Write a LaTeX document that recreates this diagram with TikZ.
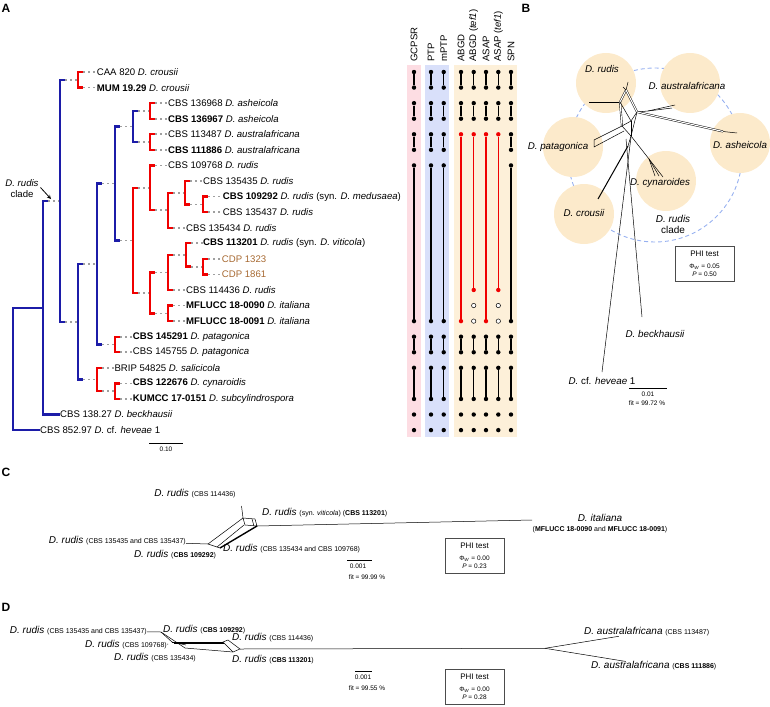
\documentclass[tikz,border=0pt]{standalone}
\usepackage{fontspec}
\setmainfont{Liberation Sans}
\usetikzlibrary{positioning, arrows, calc}
\definecolor{treeblue}{RGB}{28,28,168}
\definecolor{treered}{RGB}{240,0,0}
\definecolor{cdpbrown}{RGB}{166,104,48}
\definecolor{bandpink}{RGB}{253,221,227}
\definecolor{bandblue}{RGB}{217,224,250}
\definecolor{bandsand}{RGB}{253,240,217}
\definecolor{blobsand}{RGB}{252,234,203}
\definecolor{ringblue}{RGB}{150,176,240}
\newcommand{\Sp}[1]{\textit{#1}}
\newcommand{\Sm}[1]{{\fontsize{7}{8}\selectfont #1}}
\newcommand{\Rowy}[1]{72+15.57*#1}
\newcommand{\Link}[3]{%
  \draw[branch=#1] (#2) |- ($(#2 |- #3)+(5,0)$);
  \draw[twig] ($(#2 |- #3)+(5,0)$) -- (#3);
}
\tikzset{
  branch/.style={draw=#1, line width=2.3pt},
  twig/.style={draw=gray!75, line width=1.8pt, dash pattern=on 1.8pt off 3.2pt},
  leaf/.style={anchor=west, inner sep=0pt, font=\fontsize{9.6}{11}\selectfont},
  colhead/.style={anchor=west, rotate=90, inner sep=0pt, font=\fontsize{9.6}{11}\selectfont},
  dot/.style={circle, fill=#1, inner sep=0pt, minimum size=4.4pt},
  dot/.default=black,
  gap/.style={circle, draw=black, fill=white, line width=0.5pt, inner sep=0pt, minimum size=4.4pt},
  bar/.style={draw=#1, line width=1.3pt},
  bar/.default=black,
  panel/.style={font=\fontsize{12}{12}\selectfont\bfseries, inner sep=0pt},
  blob/.style={circle, fill=blobsand, minimum size=60pt, inner sep=0pt},
  ring/.style={circle, draw=ringblue, line width=0.9pt, dash pattern=on 4pt off 3pt, minimum size=174pt, inner sep=0pt},
  spname/.style={font=\fontsize{9.8}{11}\selectfont\itshape, inner sep=0pt},
  netlabel/.style={font=\fontsize{10}{11}\selectfont, inner sep=0pt},
  phibox/.style={draw=black!70, line width=0.6pt, minimum width=59pt, minimum height=35pt, align=center, font=\fontsize{8}{9}\selectfont, inner sep=1pt},
  note/.style={font=\fontsize{6.5}{7.5}\selectfont, inner sep=0pt},
  net/.style={line width=0.5pt},
  twin/.style={line width=0.45pt, double, double distance=1.1pt},
}
\begin{document}
\begin{tikzpicture}[x=1pt, y=-1pt]
  \useasboundingbox (0,0) rectangle (770,706);

  \node[panel] (lblA) at (6,8) {A};
  \node[panel] (lblB) at (526,8) {B};
  \node[panel] (lblC) at (6,472) {C};
  \node[panel] (lblD) at (6,607) {D};

  % tree tips
  \node[leaf] (t0) at (96.7,{\Rowy{0}}) {CAA 820 \Sp{D. crousii}};
  \node[leaf] (t1) at (96.7,{\Rowy{1}}) {\textbf{MUM 19.29} \Sp{D. crousii}};
  \node[leaf] (t2) at (168,{\Rowy{2}}) {CBS 136968 \Sp{D. asheicola}};
  \node[leaf] (t3) at (168,{\Rowy{3}}) {\textbf{CBS 136967} \Sp{D. asheicola}};
  \node[leaf] (t4) at (168,{\Rowy{4}}) {CBS 113487 \Sp{D. australafricana}};
  \node[leaf] (t5) at (168,{\Rowy{5}}) {\textbf{CBS 111886} \Sp{D. australafricana}};
  \node[leaf] (t6) at (168,{\Rowy{6}}) {CBS 109768 \Sp{D. rudis}};
  \node[leaf] (t7) at (203,{\Rowy{7}}) {CBS 135435 \Sp{D. rudis}};
  \node[leaf] (t8) at (222.7,{\Rowy{8}}) {\textbf{CBS 109292} \Sp{D. rudis} (syn. \Sp{D. medusaea})};
  \node[leaf] (t9) at (222.7,{\Rowy{9}}) {CBS 135437 \Sp{D. rudis}};
  \node[leaf] (t10) at (186,{\Rowy{10}}) {CBS 135434 \Sp{D. rudis}};
  \node[leaf] (t11) at (203,{\Rowy{11}}) {\textbf{CBS 113201} \Sp{D. rudis} (syn. \Sp{D. viticola})};
  \node[leaf, text=cdpbrown] (t12) at (221.7,{\Rowy{12}}) {CDP 1323};
  \node[leaf, text=cdpbrown] (t13) at (221.7,{\Rowy{13}}) {CDP 1861};
  \node[leaf] (t14) at (186,{\Rowy{14}}) {CBS 114436 \Sp{D. rudis}};
  \node[leaf] (t15) at (186,{\Rowy{15}}) {\textbf{MFLUCC 18-0090} \Sp{D. italiana}};
  \node[leaf] (t16) at (186,{\Rowy{16}}) {\textbf{MFLUCC 18-0091} \Sp{D. italiana}};
  \node[leaf] (t17) at (132.7,{\Rowy{17}}) {\textbf{CBS 145291} \Sp{D. patagonica}};
  \node[leaf] (t18) at (132.7,{\Rowy{18}}) {CBS 145755 \Sp{D. patagonica}};
  \node[leaf] (t19) at (114.3,{\Rowy{19}}) {BRIP 54825 \Sp{D. salicicola}};
  \node[leaf] (t20) at (132.7,{\Rowy{20}}) {\textbf{CBS 122676} \Sp{D. cynaroidis}};
  \node[leaf] (t21) at (132.7,{\Rowy{21}}) {\textbf{KUMCC 17-0151} \Sp{D. subcylindrospora}};
  \node[leaf] (t22) at (60,{\Rowy{22}}) {CBS 138.27 \Sp{D. beckhausii}};
  \node[leaf] (t23) at (40,{\Rowy{23}}) {CBS 852.97 \Sp{D.} cf. \Sp{heveae} 1};

  % tree nodes
  \coordinate (ncro) at (78,79.8);
  \coordinate (nash) at (150,110.9);
  \coordinate (naus) at (150,142.1);
  \coordinate (naa) at (133,126.5);
  \coordinate (nre) at (203,204.4);
  \coordinate (nrd) at (185,192.7);
  \coordinate (nrc) at (168,210.2);
  \coordinate (nra) at (150,187.8);
  \coordinate (ncdp) at (203,266.6);
  \coordinate (nrg) at (186,255);
  \coordinate (nrf) at (168,272.5);
  \coordinate (nita) at (168,313.4);
  \coordinate (nrb) at (150,293);
  \coordinate (nrud) at (133,240.4);
  \coordinate (n115) at (115,183.5);
  \coordinate (npat) at (115,344.5);
  \coordinate (n97) at (97,264);
  \coordinate (ncs) at (115,391.2);
  \coordinate (nsal) at (97,379.5);
  \coordinate (n78) at (78,321.8);
  \coordinate (n60) at (60,200.8);
  \coordinate (n43) at (43,307.7);
  \coordinate (root) at (13,368.9);

  \draw[branch=treeblue] (root) |- (n43);
  \draw[branch=treeblue] (root) |- (t23);
  \draw[branch=treeblue] (n43) |- (t22);
  \Link{treeblue}{n43}{n60}
  \Link{treeblue}{n60}{ncro}
  \Link{treeblue}{n60}{n78}
  \Link{treered}{ncro}{t0}
  \Link{treered}{ncro}{t1}
  \Link{treeblue}{n78}{n97}
  \Link{treeblue}{n78}{nsal}
  \Link{treeblue}{n97}{n115}
  \Link{treeblue}{n97}{npat}
  \Link{treered}{npat}{t17}
  \Link{treered}{npat}{t18}
  \Link{treered}{nsal}{t19}
  \Link{treered}{nsal}{ncs}
  \Link{treered}{ncs}{t20}
  \Link{treered}{ncs}{t21}
  \Link{treeblue}{n115}{naa}
  \Link{treeblue}{n115}{nrud}
  \Link{treeblue}{naa}{nash}
  \Link{treeblue}{naa}{naus}
  \Link{treered}{nash}{t2}
  \Link{treered}{nash}{t3}
  \Link{treered}{naus}{t4}
  \Link{treered}{naus}{t5}
  \Link{treered}{nrud}{nra}
  \Link{treered}{nrud}{nrb}
  \Link{treered}{nra}{t6}
  \Link{treered}{nra}{nrc}
  \Link{treered}{nrc}{nrd}
  \Link{treered}{nrc}{t10}
  \Link{treered}{nrd}{t7}
  \Link{treered}{nrd}{nre}
  \Link{treered}{nre}{t8}
  \Link{treered}{nre}{t9}
  \Link{treered}{nrb}{nrf}
  \Link{treered}{nrb}{nita}
  \Link{treered}{nrf}{nrg}
  \Link{treered}{nrf}{t14}
  \Link{treered}{nrg}{t11}
  \Link{treered}{nrg}{ncdp}
  \Link{treered}{ncdp}{t12}
  \Link{treered}{ncdp}{t13}
  \Link{treered}{nita}{t15}
  \Link{treered}{nita}{t16}

  \node[leaf, anchor=center, align=center, font=\fontsize{9.6}{11}\selectfont] (cladeA) at (22,188.5) {\Sp{D. rudis}\\clade};
  \coordinate (cladeTip) at (51,199);
  \draw[-stealth, line width=0.8pt] (40.5,187.5) -- (cladeTip);

  \coordinate (sbA1) at (149,443);
  \coordinate (sbA2) at (183,443);
  \draw[line width=0.6pt] (sbA1) -- (sbA2);
  \node[note, below=4pt of $(sbA1)!0.5!(sbA2)$] (sbAtext) {0.10};

  % delimitation columns
  \fill[bandpink] (407,65) rectangle (421,437);
  \fill[bandblue] (425,65) rectangle (449,437);
  \fill[bandsand] (454,65) rectangle (517,437);
  \node[colhead] (hg) at (414,62) {GCPSR};
  \node[colhead] (hp) at (431,62) {PTP};
  \node[colhead] (hm) at (443.7,62) {mPTP};
  \node[colhead] (ha) at (461,62) {ABGD};
  \node[colhead] (hat) at (473.7,62) {ABGD (\Sp{tef1})};
  \node[colhead] (hb) at (486,62) {ASAP};
  \node[colhead] (hbt) at (498.3,62) {ASAP (\Sp{tef1})};
  \node[colhead] (hs) at (511,62) {SPN};

  \foreach \c/\x in {g/414, p/431, m/443.7, s/511}{
    \foreach \a/\b in {0/1, 2/3, 4/5, 6/16, 17/18, 19/21}{
      \node[dot] (\c\a) at (\x,{\Rowy{\a}}) {};
      \node[dot] (\c\b) at (\x,{\Rowy{\b}}) {};
      \draw[bar] (\c\a) -- (\c\b);
    }
    \foreach \a in {22, 23}
      \node[dot] (\c\a) at (\x,{\Rowy{\a}}) {};
  }
  \foreach \c/\x/\e in {a/461/16, b/486/16, at/473.7/14, bt/498.3/14}{
    \foreach \a/\b in {0/1, 2/3, 17/18, 19/21}{
      \node[dot] (\c\a) at (\x,{\Rowy{\a}}) {};
      \node[dot] (\c\b) at (\x,{\Rowy{\b}}) {};
      \draw[bar] (\c\a) -- (\c\b);
    }
    \node[dot=treered] (\c4) at (\x,{\Rowy{4}}) {};
    \node[dot=treered] (\c\e) at (\x,{\Rowy{\e}}) {};
    \draw[bar=treered] (\c4) -- (\c\e);
    \foreach \a in {22, 23}
      \node[dot] (\c\a) at (\x,{\Rowy{\a}}) {};
  }
  \foreach \c/\x in {at/473.7, bt/498.3}
    \foreach \a in {15, 16}
      \node[gap] (\c\a) at (\x,{\Rowy{\a}}) {};

  % panel B
  \node[ring] (ringB) at (655,155) {};
  \node[blob] (bRud) at (606,83) {};
  \node[blob] (bAus) at (690,83) {};
  \node[blob] (bAsh) at (740,143) {};
  \node[blob] (bPat) at (573,147) {};
  \node[blob] (bCyn) at (666,181) {};
  \node[blob] (bCro) at (584,214) {};
  \node[spname] (sRud) at (602,69) {D. rudis};
  \node[spname] (sAus) at (687,86) {D. australafricana};
  \node[spname] (sAsh) at (740,145) {D. asheicola};
  \node[spname] (sPat) at (558,147) {D. patagonica};
  \node[spname] (sCyn) at (660,183) {D. cynaroides};
  \node[spname] (sCro) at (584,213) {D. crousii};
  \node[spname] (sBec) at (655,334) {D. beckhausii};
  \node[spname] (sHev) at (602,381) {D. \upshape cf. \itshape heveae \upshape 1};
  \node[netlabel, align=center] (cladeB) at (673,224) {\Sp{D. rudis}\\clade};

  \coordinate (k1) at (620,102);
  \coordinate (k2) at (626,90);
  \coordinate (k3) at (637,112);
  \coordinate (k4) at (631,121);
  \coordinate (k5) at (622,126);
  \coordinate (k6) at (631,136);
  \coordinate (k7) at (628,146);
  \draw[net] (589,102) -- (k1);
  \draw[twin] (k1) -- (k2);
  \draw[net] (k2) -- (628,82);
  \draw[net] (k2) -- (623,87);
  \draw[twin] (k2) -- (k3);
  \draw[twin] (k1) -- (k5);
  \draw[net] (k1) -- (k4) -- (k3);
  \draw[net] (k5) -- (k6) -- (k3);
  \draw[net] (k5) -- (k4);
  \draw[net] (k4) -- (k6);
  \draw[net] (k3) -- (648,111) -- (675,105);
  \draw[net] (648,111) -- (672,108);
  \draw[twin] (k3) -- (723,131.5);
  \draw[net] (723,131.5) -- (737,133);
  \draw[net] (k5) -- (594,140) -- (594,147) -- (624,131);
  \draw[net] (k6) -- (649,159) -- (663,177);
  \draw[net] (649,159) -- (655,176);
  \draw[net] (649,159) -- (659,176);
  \draw[net] (k6) -- (k7);
  \draw[line width=1pt] (k7) -- (598,199);
  \draw[net] (631,137) -- (602,372);
  \draw[net] (626,139) -- (642,317);

  \node[phibox] (phiB) at (704.5,263.5) {PHI test\\[3pt]{\fontsize{6.5}{7.5}\selectfont Φ\textsubscript{\textit{W}} = 0.05}\\[-1pt]{\fontsize{6.5}{7.5}\selectfont \textit{P} = 0.50}};
  \coordinate (sbB1) at (629,388);
  \coordinate (sbB2) at (667,388);
  \draw[line width=0.6pt] (sbB1) -- (sbB2);
  \node[note] (sbBtext) at (648,394) {0.01};
  \node[note] (fitB) at (647,403.5) {fit = 99.72 \%};

  % panel C
  \node[netlabel] (c114436) at (195,494) {\Sp{D. rudis} \Sm{(CBS 114436)}};
  \node[netlabel, anchor=west] (c113201) at (262,513) {\Sp{D. rudis} \Sm{(syn. \textit{viticola}) (\textbf{CBS 113201})}};
  \node[netlabel, anchor=east] (c135435) at (186,541) {\Sp{D. rudis} \Sm{(CBS 135435 and CBS 135437)}};
  \node[netlabel] (c109292) at (175,555) {\Sp{D. rudis} \Sm{(\textbf{CBS 109292})}};
  \node[netlabel, anchor=west] (c135434) at (223,549) {\Sp{D. rudis} \Sm{(CBS 135434 and CBS 109768)}};
  \node[netlabel] (cIta) at (600,518) {\Sp{D. italiana}};
  \node[note] (cItaStr) at (600,529.5) {\Sm{(\textbf{MFLUCC 18-0090} and \textbf{MFLUCC 18-0091})}};

  \coordinate (q1) at (208,544);
  \coordinate (q2) at (220,548);
  \coordinate (q3) at (243,518);
  \coordinate (q4) at (257,526);
  \coordinate (q5) at (255,519);
  \coordinate (q6) at (245,525);
  \draw[net] (c135435) -- (q1);
  \draw[net] (q1) -- (q3);
  \draw[net] (q1) -- (q2);
  \draw[line width=1.4pt] (q2) -- (q4);
  \draw[net] ($(q2)+(-3,-1)$) -- ($(q6)+(-1,0)$);
  \draw[net] (q3) -- (q5) -- (q4) -- (q6) -- cycle;
  \draw[net] (252,519) -- (254,526);
  \draw[net] (241.5,506) -- (q3);
  \draw[net] (q4) -- (532,520);

  \node[phibox] (phiC) at (474.5,555.3) {PHI test\\[3pt]{\fontsize{6.5}{7.5}\selectfont Φ\textsubscript{\textit{W}} = 0.00}\\[-1pt]{\fontsize{6.5}{7.5}\selectfont \textit{P} = 0.23}};
  \coordinate (sbC1) at (347,560.5);
  \coordinate (sbC2) at (372,560.5);
  \draw[line width=0.6pt] (sbC1) -- (sbC2);
  \node[note] (sbCtext) at (358,566.5) {0.001};
  \node[note] (fitC) at (367,577) {fit = 99.99 \%};

  % panel D
  \node[netlabel, anchor=east] (d135435) at (147,631) {\Sp{D. rudis} \Sm{(CBS 135435 and CBS 135437)}};
  \node[netlabel, anchor=west] (d109292) at (163,630) {\Sp{D. rudis} \Sm{(\textbf{CBS 109292})}};
  \node[netlabel, anchor=east] (d109768) at (167,645) {\Sp{D. rudis} \Sm{(CBS 109768)}};
  \node[netlabel] (d135434) at (155,657.3) {\Sp{D. rudis} \Sm{(CBS 135434)}};
  \node[netlabel, anchor=west] (d114436) at (232,638) {\Sp{D. rudis} \Sm{(CBS 114436)}};
  \node[netlabel, anchor=west] (d113201) at (232,659.3) {\Sp{D. rudis} \Sm{(\textbf{CBS 113201})}};
  \node[netlabel, anchor=west] (dA113487) at (584,631.7) {\Sp{D. australafricana} \Sm{(CBS 113487)}};
  \node[netlabel, anchor=west] (dA111886) at (591,666) {\Sp{D. australafricana} \Sm{(\textbf{CBS 111886})}};

  \coordinate (w1) at (161,632);
  \coordinate (w2) at (185,648);
  \coordinate (w3) at (172,642);
  \coordinate (w4) at (223,642);
  \coordinate (w5) at (228,640);
  \coordinate (w6) at (240,649);
  \coordinate (w7) at (233,652);
  \coordinate (w8) at (545,648.3);
  \draw[net] (d135435) -- (w1) -- (w2);
  \draw[net] (w1) -- (w3) -- ($(w2)+(1,-3)$);
  \draw[net] (168,644) -- (d109768);
  \draw[net] (w3) -- (w4);
  \draw[net] ($(w3)+(2,1.5)$) -- ($(w4)+(1,1.5)$);
  \draw[net] (w2) -- (w7);
  \draw[net] (w4) -- (w5) -- (w6) -- (w7) -- cycle;
  \draw[net] (w6) -- (w8);
  \draw[net] (w8) -- (dA113487);
  \draw[net] (w8) -- (dA111886);

  \node[phibox] (phiD) at (474.5,687) {PHI test\\[3pt]{\fontsize{6.5}{7.5}\selectfont Φ\textsubscript{\textit{W}} = 0.00}\\[-1pt]{\fontsize{6.5}{7.5}\selectfont \textit{P} = 0.28}};
  \coordinate (sbD1) at (355,671);
  \coordinate (sbD2) at (372,671);
  \draw[line width=0.6pt] (sbD1) -- (sbD2);
  \node[note] (sbDtext) at (363,677) {0.001};
  \node[note] (fitD) at (367,688) {fit = 99.55 \%};
\end{tikzpicture}
\end{document}
